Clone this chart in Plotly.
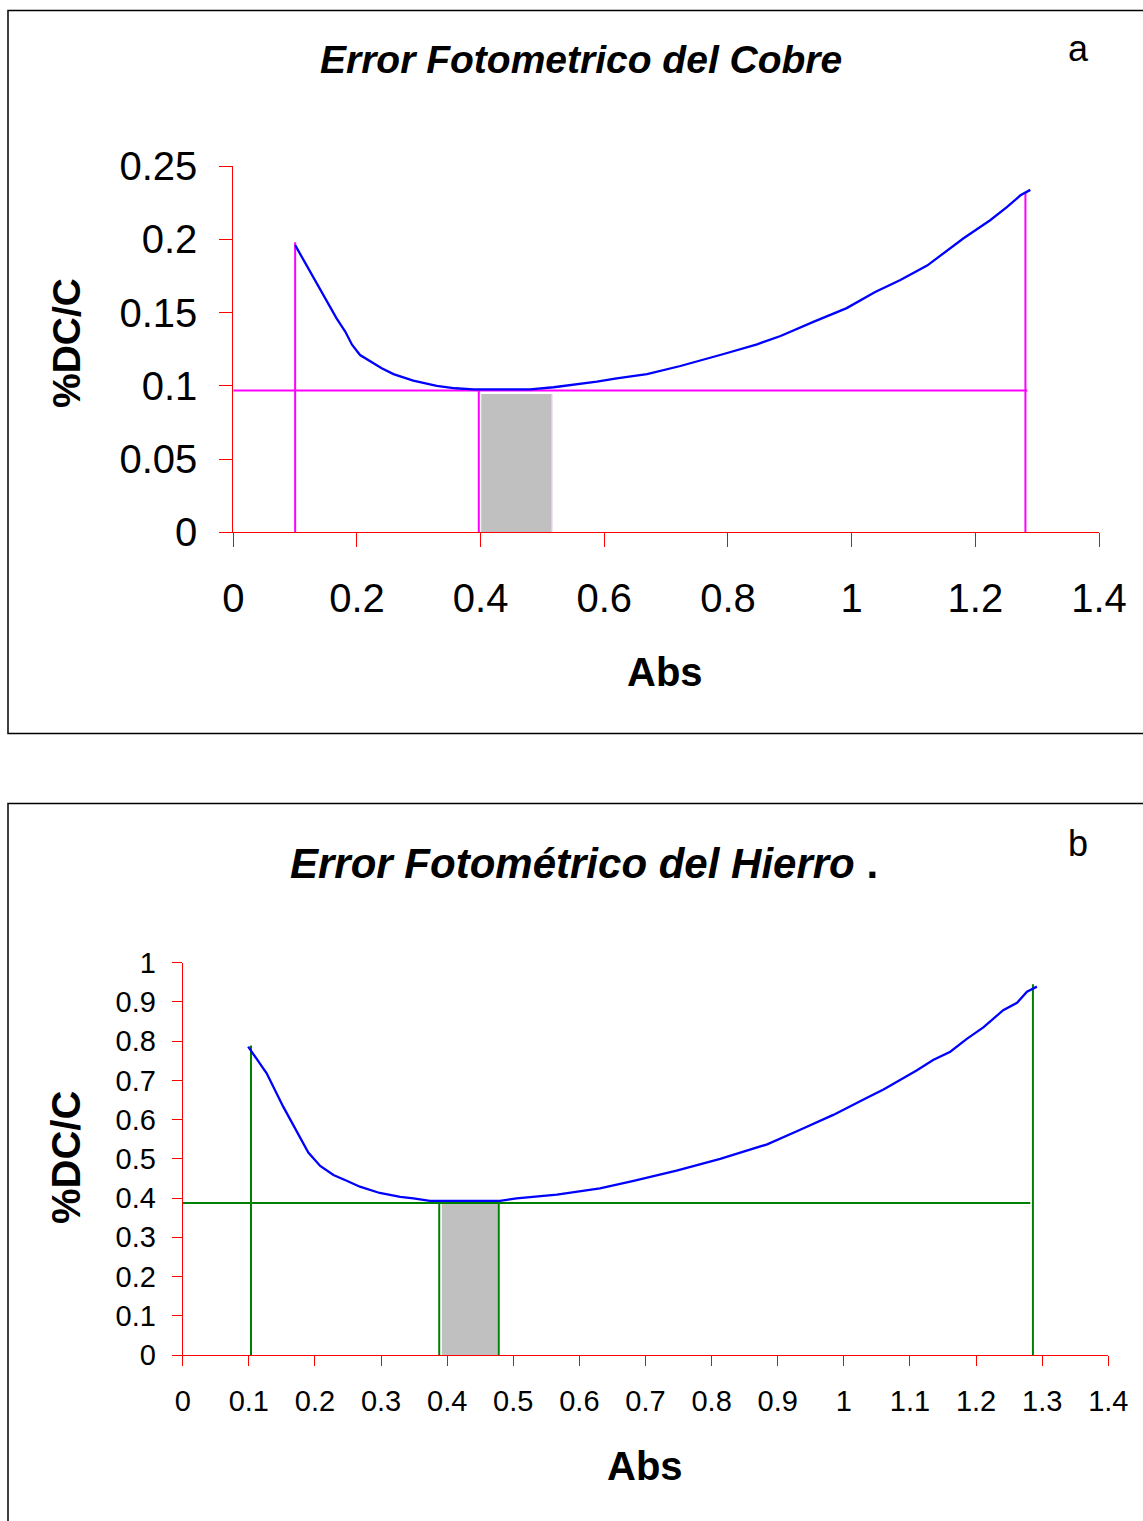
import plotly.graph_objects as go

W, H = 1143, 1521

# ---------------- Data: Cobre (panel a) ----------------
abs_cu = [0.100, 0.134, 0.167, 0.181, 0.192, 0.205, 0.240, 0.259, 0.291, 0.329, 0.359, 0.388,
          0.480, 0.518, 0.556, 0.588, 0.620, 0.669, 0.723, 0.760, 0.793, 0.847, 0.885,
          0.939, 0.992, 1.038, 1.078, 1.122, 1.181, 1.224, 1.251, 1.273, 1.289]
err_cu = [0.196, 0.171, 0.146, 0.137, 0.128, 0.121, 0.112, 0.108, 0.1035, 0.0999, 0.0983, 0.0976,
          0.0976, 0.0990, 0.1010, 0.1028, 0.1051, 0.1080, 0.1135, 0.1176, 0.1217, 0.1283, 0.1340,
          0.1438, 0.1530, 0.1640, 0.1720, 0.1820, 0.2007, 0.2130, 0.2220, 0.2300, 0.2337]
cu_hline_y = 0.0967
cu_hline_x = [0.0, 1.284]
cu_vlines_x = [0.100, 0.397, 1.281]
cu_vlines_top = [0.198, 0.0967, 0.232]
cu_band_x = [0.401, 0.515]
cu_band_top = 0.0944
cu_xticks = [0, 0.2, 0.4, 0.6, 0.8, 1.0, 1.2, 1.4]
cu_xlabels = ["0", "0.2", "0.4", "0.6", "0.8", "1", "1.2", "1.4"]
cu_yticks = [0, 0.05, 0.10, 0.15, 0.20, 0.25]
cu_ylabels = ["0", "0.05", "0.1", "0.15", "0.2", "0.25"]

# ---------------- Data: Hierro (panel b) ----------------
abs_fe = [0.099, 0.127, 0.152, 0.177, 0.190, 0.208, 0.228, 0.248, 0.268, 0.298, 0.329, 0.349,
          0.374, 0.480, 0.505, 0.566, 0.631, 0.682, 0.747, 0.813, 0.884, 0.934, 0.984,
          1.035, 1.060, 1.085, 1.110, 1.135, 1.161, 1.186, 1.211, 1.241, 1.262, 1.277, 1.292]
err_fe = [0.786, 0.718, 0.633, 0.556, 0.516, 0.482, 0.459, 0.444, 0.429, 0.413, 0.403, 0.399,
          0.393, 0.393, 0.399, 0.409, 0.425, 0.444, 0.470, 0.500, 0.537, 0.574, 0.612,
          0.656, 0.677, 0.701, 0.725, 0.752, 0.773, 0.806, 0.835, 0.879, 0.898, 0.926, 0.939]
fe_hline_y = 0.3874
fe_hline_x = [0.0, 1.282]
fe_vlines_x = [0.1033, 0.388, 0.478, 1.286]
fe_vlines_bot = [-0.006, 0.0, 0.0, -0.010]
fe_vlines_top = [0.789, 0.3874, 0.3874, 0.945]
fe_band_x = [0.392, 0.4765]
fe_band_top = 0.387
fe_xticks = [round(0.1 * i, 1) for i in range(15)]
fe_xlabels = ["0", "0.1", "0.2", "0.3", "0.4", "0.5", "0.6", "0.7", "0.8", "0.9", "1",
              "1.1", "1.2", "1.3", "1.4"]
fe_yticks = [round(0.1 * i, 1) for i in range(11)]
fe_ylabels = ["0", "0.1", "0.2", "0.3", "0.4", "0.5", "0.6", "0.7", "0.8", "0.9", "1"]

FONT = "Liberation Sans, Arial, sans-serif"
BLUE = "#0000FF"
MAGENTA = "#FF00FF"
GREEN = "#008000"
GRAY = "#C0C0C0"
RED = "#FF0000"

def px(x):
    return x / W

def py(y):
    return 1 - y / H

fig = go.Figure()

# ---- Panel a traces ----
fig.add_trace(go.Scatter(x=[cu_band_x[0], cu_band_x[1], cu_band_x[1], cu_band_x[0], cu_band_x[0]],
                         y=[0, 0, cu_band_top, cu_band_top, 0], fill="toself", fillcolor=GRAY,
                         mode="lines", line=dict(width=0), xaxis="x", yaxis="y",
                         hoverinfo="skip"))
fig.add_trace(go.Scatter(x=[cu_band_x[1], cu_band_x[1]], y=[0, cu_band_top], mode="lines",
                         line=dict(color="#E8C8F0", width=1.5), xaxis="x", yaxis="y"))
fig.add_trace(go.Scatter(x=cu_hline_x, y=[cu_hline_y, cu_hline_y], mode="lines",
                         line=dict(color=MAGENTA, width=2), xaxis="x", yaxis="y"))
for xv, top in zip(cu_vlines_x, cu_vlines_top):
    fig.add_trace(go.Scatter(x=[xv, xv], y=[0, top], mode="lines",
                             line=dict(color=MAGENTA, width=2), xaxis="x", yaxis="y"))
fig.add_trace(go.Scatter(x=abs_cu, y=err_cu, mode="lines",
                         line=dict(color=BLUE, width=2.3), xaxis="x", yaxis="y"))

# ---- Panel b traces ----
fig.add_trace(go.Scatter(x=[fe_band_x[0], fe_band_x[1], fe_band_x[1], fe_band_x[0], fe_band_x[0]],
                         y=[0, 0, fe_band_top, fe_band_top, 0], fill="toself", fillcolor=GRAY,
                         mode="lines", line=dict(width=0), xaxis="x2", yaxis="y2",
                         hoverinfo="skip"))
fig.add_trace(go.Scatter(x=fe_hline_x, y=[fe_hline_y, fe_hline_y], mode="lines",
                         line=dict(color=GREEN, width=2), xaxis="x2", yaxis="y2"))
for xv, b, top in zip(fe_vlines_x, fe_vlines_bot, fe_vlines_top):
    fig.add_trace(go.Scatter(x=[xv, xv], y=[b, top], mode="lines",
                             line=dict(color=GREEN, width=2), xaxis="x2", yaxis="y2",
                             cliponaxis=False))
fig.add_trace(go.Scatter(x=abs_fe, y=err_fe, mode="lines",
                         line=dict(color=BLUE, width=2.3), xaxis="x2", yaxis="y2"))

axis_common = dict(showline=True, linecolor=RED, linewidth=1, showgrid=False, zeroline=False,
                   ticks="outside", tickcolor=RED, tickwidth=1, tickmode="array",
                   automargin=False)

fig.update_layout(
    width=W, height=H, margin=dict(l=0, r=0, t=0, b=0, pad=0, autoexpand=False),
    paper_bgcolor="white", plot_bgcolor="white", showlegend=False,
    font=dict(family=FONT, color="black"),
    xaxis=dict(**axis_common, domain=[px(233.3), px(1099)], range=[0, 1.4],
               tickvals=cu_xticks, ticktext=cu_xlabels, ticklen=14,
               tickfont=dict(size=40, family=FONT), ticklabelstandoff=17, anchor="y"),
    yaxis=dict(**axis_common, domain=[py(532.3), py(166)], range=[0, 0.25],
               tickvals=cu_yticks, ticktext=cu_ylabels, ticklen=13,
               tickfont=dict(size=40, family=FONT), ticklabelstandoff=14, anchor="x"),
    xaxis2=dict(**axis_common, domain=[px(182.7), px(1108.3)], range=[0, 1.4],
                tickvals=fe_xticks, ticktext=fe_xlabels, ticklen=10,
                tickfont=dict(size=29, family=FONT), ticklabelstandoff=10, anchor="y2"),
    yaxis2=dict(**axis_common, domain=[py(1355), py(962.7)], range=[0, 1.0],
                tickvals=fe_yticks, ticktext=fe_ylabels, ticklen=10,
                tickfont=dict(size=29, family=FONT), ticklabelstandoff=10, anchor="x2"),
)

# Borders of the two panels
fig.add_shape(type="rect", xref="paper", yref="paper", x0=px(8), x1=px(1146), y0=py(733.5), y1=py(10.5),
              line=dict(color="black", width=1.5), fillcolor="rgba(0,0,0,0)", layer="below")
fig.add_shape(type="rect", xref="paper", yref="paper", x0=px(8), x1=px(1146), y0=py(1525), y1=py(803.5),
              line=dict(color="black", width=1.5), fillcolor="rgba(0,0,0,0)", layer="below")

ann = []
ann.append(dict(text="<b><i>Error Fotometrico del Cobre</i></b>", x=px(580.5), y=py(60),
                font=dict(size=39, family=FONT)))
ann.append(dict(text="a", x=px(1078), y=py(48), font=dict(size=36, family=FONT)))
ann.append(dict(text="<b>%DC/C</b>", x=px(67), y=py(343), textangle=-90,
                font=dict(size=39, family=FONT)))
ann.append(dict(text="<b>Abs</b>", x=px(665), y=py(672), font=dict(size=40, family=FONT)))

ann.append(dict(text="<b><i>Error Fotométrico del Hierro</i> .</b>", x=px(288), y=py(863),
                xanchor="left", font=dict(size=42, family=FONT)))
ann.append(dict(text="b", x=px(1078), y=py(843), font=dict(size=36, family=FONT)))
ann.append(dict(text="<b>%DC/C</b>", x=px(66), y=py(1158), textangle=-90,
                font=dict(size=40, family=FONT)))
ann.append(dict(text="<b>Abs</b>", x=px(645), y=py(1466), font=dict(size=40, family=FONT)))

for a in ann:
    a.setdefault("xanchor", "center")
    a.setdefault("yanchor", "middle")
    fig.add_annotation(xref="paper", yref="paper", showarrow=False, **a)

fig.write_html("out.html")
